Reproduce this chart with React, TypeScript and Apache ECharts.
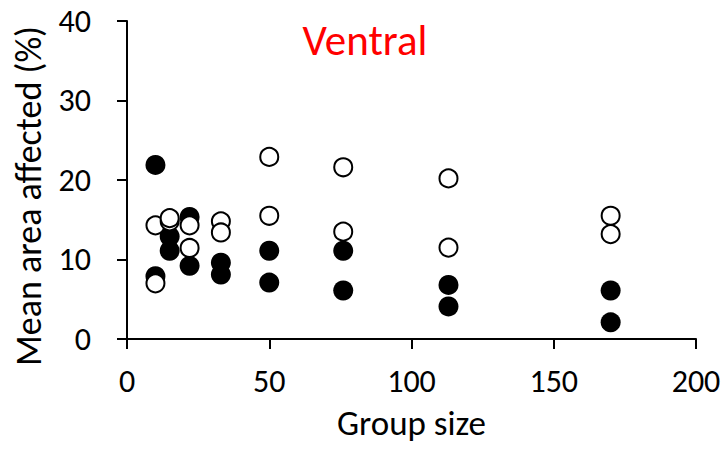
import React, { useEffect, useRef } from "react";
import * as echarts from "echarts";

const titleText = "Ventral";
const xAxisName = "Group size";
const yAxisName = "Mean area affected (%)";

// filled markers [group size, mean area affected %]
const filledPoints: [number, number][] = [
  [10, 21.9], [10, 7.9],
  [15, 12.9], [15, 11.1],
  [22, 15.35], [22, 9.2],
  [33, 9.6], [33, 8.1],
  [50, 11.1], [50, 7.1],
  [76, 11.1], [76, 6.1],
  [113, 6.8], [113, 4.1],
  [170, 6.1], [170, 2.1],
];

// open markers [group size, mean area affected %]
const openPoints: [number, number][] = [
  [10, 14.3], [10, 7.0],
  [15, 14.8], [15, 15.2],
  [22, 14.3], [22, 11.45],
  [33, 14.8], [33, 13.4],
  [50, 22.9], [50, 15.5],
  [76, 21.6], [76, 13.5],
  [113, 20.2], [113, 11.5],
  [170, 15.5], [170, 13.2],
];

const FONT = "Carlito, Lato, sans-serif";

export default function App() {
  const ref = useRef<HTMLDivElement>(null);
  useEffect(() => {
    if (!ref.current) return;
    const chart = echarts.init(ref.current, undefined, { renderer: "svg" });
    chart.setOption({
      animation: false,
      backgroundColor: "#ffffff",
      textStyle: { fontFamily: FONT },
      grid: { left: 127, right: 31, top: 21, bottom: 120, containLabel: false },
      xAxis: {
        type: "value",
        min: 0,
        max: 200,
        interval: 50,
        name: xAxisName,
        nameLocation: "middle",
        nameGap: 66,
        nameTextStyle: { fontSize: 35, color: "#000", fontFamily: FONT },
        axisLine: { show: true, onZero: false, lineStyle: { color: "#000", width: 2 } },
        axisTick: { show: true, inside: false, length: 10, lineStyle: { color: "#000", width: 2 } },
        axisLabel: { fontSize: 32, color: "#000", margin: 26, fontFamily: FONT },
        splitLine: { show: false },
      },
      yAxis: {
        type: "value",
        min: 0,
        max: 40,
        interval: 10,
        axisLine: { show: true, onZero: false, lineStyle: { color: "#000", width: 2 } },
        axisTick: { show: true, inside: false, length: 10, lineStyle: { color: "#000", width: 2 } },
        axisLabel: { fontSize: 32, color: "#000", margin: 36, fontFamily: FONT },
        splitLine: { show: false },
      },
      graphic: [
        {
          type: "text",
          x: 365,
          y: 40,
          style: {
            text: titleText,
            fill: "#ff0000",
            font: `43px ${FONT}`,
            textAlign: "center",
            textVerticalAlign: "middle",
          },
        },
        {
          type: "text",
          x: 29,
          y: 196,
          rotation: Math.PI / 2,
          style: {
            text: yAxisName,
            fill: "#000",
            font: `36px ${FONT}`,
            textAlign: "center",
            textVerticalAlign: "middle",
          },
        },
      ],
      series: [
        {
          type: "scatter",
          data: filledPoints,
          symbol: "circle",
          symbolSize: 20,
          itemStyle: { color: "#000", opacity: 1 },
          z: 2,
        },
        {
          type: "scatter",
          data: openPoints,
          symbol: "circle",
          symbolSize: 18,
          itemStyle: { color: "#fff", borderColor: "#000", borderWidth: 2, opacity: 1 },
          z: 3,
        },
      ],
    });
    return () => chart.dispose();
  }, []);
  return <div ref={ref} style={{ width: 727, height: 459, position: "absolute", left: 0, top: 0 }} />;
}
